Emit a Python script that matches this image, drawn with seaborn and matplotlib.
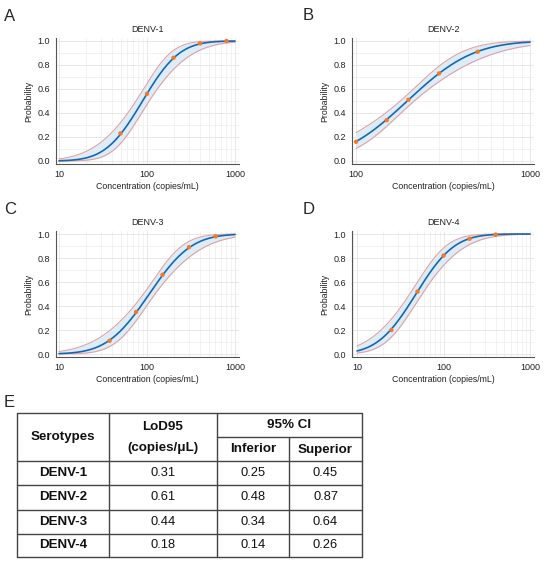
import math
import numpy as np
import pandas as pd
import matplotlib
matplotlib.use('Agg')
import matplotlib.pyplot as plt
import seaborn as sns
from matplotlib.ticker import FixedLocator, MultipleLocator, NullFormatter

# observed hit rates per serotype
serotypes = ['DENV-1', 'DENV-2', 'DENV-3', 'DENV-4']
conc = [
    [50, 100, 200, 400, 800],
    [100, 150, 200, 300, 500],
    [37.5, 75, 150, 300, 600],
    [25, 50, 100, 200, 400],
]
hit_rate = [
    [0.23, 0.56, 0.86, 0.98, 1.0],
    [0.16, 0.34, 0.51, 0.73, 0.91],
    [0.11, 0.35, 0.66, 0.89, 0.98],
    [0.20, 0.52, 0.82, 0.96, 0.995],
]

# probit fit parameters (copies/mL)
ec50 = [89, 197, 106, 48]
lod95_ml = [310, 610, 440, 180]
band_h0 = [0.22, 0.13, 0.17, 0.20]
band_h1 = [0.77, 0.80, 0.65, 0.60]
curve_start = [10, 100, 10, 10]

# table E
lod95 = ['0.31', '0.61', '0.44', '0.18']
ci_inf = ['0.25', '0.48', '0.34', '0.14']
ci_sup = ['0.45', '0.87', '0.64', '0.26']

sns.set_style('white')
plt.rcParams['font.family'] = ['Liberation Sans', 'DejaVu Sans']

erf = np.vectorize(math.erf)


def phi(z):
    return 0.5 * (1 + erf(z / math.sqrt(2)))


fig = plt.figure(figsize=(5.5, 5.63), dpi=100)

positions = [
    [56 / 550, 1 - 164 / 563, 183 / 550, 126 / 563],
    [352 / 550, 1 - 164 / 563, 182 / 550, 126 / 563],
    [56 / 550, 1 - 357 / 563, 183 / 550, 126 / 563],
    [352 / 550, 1 - 357 / 563, 182 / 550, 126 / 563],
]
xlims = [(9.24, 1110), (94.8, 1054), (9.24, 1110), (8.75, 1112)]
letters = ['A', 'B', 'C', 'D']
letter_pos = [(4, 21), (303, 20), (4, 214), (303, 214)]

for i, name in enumerate(serotypes):
    ax = fig.add_axes(positions[i])
    m = math.log10(ec50[i])
    slope = 1.645 / (math.log10(lod95_ml[i]) - m)
    xs = np.logspace(math.log10(curve_start[i]), 3, 300)
    u = np.log10(xs)
    z = slope * (u - m)
    hw = np.sqrt(band_h0[i] ** 2 + (band_h1[i] * (u - m)) ** 2)
    fit = pd.DataFrame({'x': xs, 'p': phi(z)})
    lo = phi(z - hw)
    hi = phi(z + hw)

    ax.fill_between(xs, lo, hi, color='#dcecf8', zorder=1, linewidth=0)
    ax.plot(xs, lo, color='#e2a2a2', lw=0.8, zorder=2)
    ax.plot(xs, hi, color='#e2a2a2', lw=0.8, zorder=2)
    sns.lineplot(data=fit, x='x', y='p', ax=ax, color='#1a66ae', lw=1.2, zorder=3)
    pts = pd.DataFrame({'x': conc[i], 'p': hit_rate[i]})
    sns.scatterplot(data=pts, x='x', y='p', ax=ax, color='#f07a2a', s=10,
                    edgecolor='none', zorder=4)

    ax.set_xscale('log')
    ax.set_xlim(*xlims[i])
    ax.set_ylim(-0.025, 1.025)
    if i == 1:
        ax.xaxis.set_major_locator(FixedLocator([100, 1000]))
    else:
        ax.xaxis.set_major_locator(FixedLocator([10, 100, 1000]))
    ax.set_xticklabels([str(t) for t in ax.get_xticks()])
    ax.xaxis.set_minor_formatter(NullFormatter())
    ax.yaxis.set_major_locator(MultipleLocator(0.2))
    ax.yaxis.set_minor_locator(MultipleLocator(0.1))
    ax.set_yticks(np.arange(0, 1.01, 0.2))
    ax.set_yticklabels([f'{v:.1f}' for v in np.arange(0, 1.01, 0.2)])
    ax.grid(True, which='major', color='#e4e4e4', lw=0.6)
    ax.grid(True, which='minor', color='#ededed', lw=0.5)
    ax.set_axisbelow(True)
    for s in ['top', 'right']:
        ax.spines[s].set_visible(False)
    for s in ['left', 'bottom']:
        ax.spines[s].set_color('#555555')
        ax.spines[s].set_linewidth(0.8)
    ax.tick_params(which='major', length=2.5, width=0.7, color='#555555',
                   labelsize=6.5, pad=2, labelcolor='#222222')
    ax.tick_params(which='minor', length=0)
    ax.tick_params(axis='x', which='minor', length=1.5, width=0.5, color='#555555')
    ax.set_title(name, fontsize=6.5, pad=4, color='#222222')
    ax.set_xlabel('Concentration (copies/mL)', fontsize=6.3, labelpad=2, color='#222222')
    ax.set_ylabel('Probability', fontsize=6.3, labelpad=3, color='#222222')
    fig.text(letter_pos[i][0] / 550, 1 - letter_pos[i][1] / 563, letters[i],
             fontsize=12, ha='left', va='baseline')

# table E drawn in pixel coordinates
fig.text(4 / 550, 1 - 407 / 563, 'E', fontsize=12, ha='left', va='baseline')
tab = fig.add_axes([0, 0, 1, 1])
tab.set_xlim(0, 550)
tab.set_ylim(563, 0)
tab.axis('off')

cols = [17, 109, 217, 289, 362]
rows = [413, 460.5, 485, 509.5, 534, 557]
line_kw = dict(color='#444444', lw=1.0)
for y in rows:
    tab.plot([cols[0], cols[-1]], [y, y], **line_kw)
tab.plot([cols[2], cols[-1]], [437, 437], **line_kw)
for x in [cols[0], cols[1], cols[2], cols[-1]]:
    tab.plot([x, x], [rows[0], rows[-1]], **line_kw)
tab.plot([cols[3], cols[3]], [437, rows[-1]], **line_kw)

hdr = dict(fontsize=9.6, fontweight='bold', ha='center', va='center', color='#111111')
tab.text(63, 437, 'Serotypes', **hdr)
tab.text(163, 427, 'LoD95', **hdr)
tab.text(163, 448, '(copies/μL)', **hdr)
tab.text(289.5, 425, '95% CI', **hdr)
tab.text(253, 449.5, 'Inferior', **hdr)
tab.text(325.5, 449.5, 'Superior', **hdr)

for r, name in enumerate(serotypes):
    yc = (rows[r + 1] + rows[r + 2]) / 2
    tab.text(63, yc, name, **hdr)
    for cx, val in zip([163, 253, 325.5], [lod95[r], ci_inf[r], ci_sup[r]]):
        tab.text(cx, yc, val, fontsize=9.3, ha='center', va='center', color='#111111')

fig.savefig('out.png', dpi=100)
